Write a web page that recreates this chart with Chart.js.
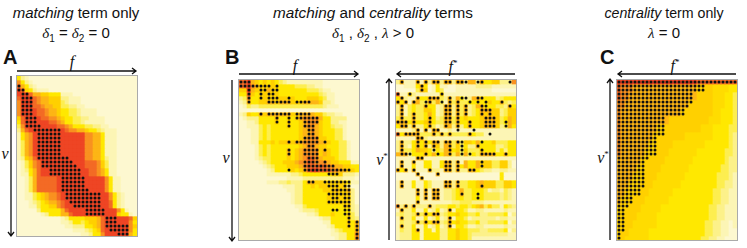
<!DOCTYPE html>
<html>
<head>
<meta charset="utf-8">
<title>matching and centrality terms</title>
<script src="https://cdn.jsdelivr.net/npm/chart.js@4"></script>
<style>
    html, body { margin: 0; padding: 0; background: #fff; }
    #page { position: relative; width: 747px; height: 248px; overflow: hidden; font-family: "Liberation Sans", Arial, sans-serif; color: #111; }
    canvas { position: absolute; filter: blur(0.35px); }
    .frame { position: absolute; width: 120px; height: 160px; border: 1px solid #aaa; margin: -1px 0 0 -1px; }
    .head { position: absolute; transform: translateX(-50%); white-space: nowrap; font-size: 15px; line-height: 18px; }
    .head i.s, .sym { font-family: "Liberation Serif", serif; font-style: italic; }
    .head sub { font-size: 10px; line-height: 0; font-style: normal; font-family: "Liberation Sans", sans-serif; }
    .letter { position: absolute; font-size: 20px; font-weight: bold; line-height: 20px; }
    .sym { position: absolute; font-size: 16px; line-height: 16px; transform: translateX(-50%); }
    .sym sup { font-size: 9px; line-height: 0; font-style: normal; }
    svg { position: absolute; left: 0; top: 0; }
</style>
</head>
<body>
<div id="page">
    <div class="head" style="left:76px;top:4px"><i>matching</i> term only</div>
    <div class="head" style="left:76px;top:24px"><i class="s">&delta;</i><sub>1</sub> = <i class="s">&delta;</i><sub>2</sub> = 0</div>
    <div class="head" style="left:373px;top:4px;font-size:15.3px"><i>matching</i> and <i>centrality</i> terms</div>
    <div class="head" style="left:373px;top:24px"><i class="s">&delta;</i><sub>1</sub> , <i class="s">&delta;</i><sub>2</sub> , <i class="s">&lambda;</i> &gt; 0</div>
    <div class="head" style="left:664px;top:4px;font-size:14.2px"><i>centrality</i> term only</div>
    <div class="head" style="left:664px;top:24px"><i class="s">&lambda;</i> = 0</div>

    <div class="letter" style="left:3px;top:47px">A</div>
    <div class="letter" style="left:225px;top:47px">B</div>
    <div class="letter" style="left:600px;top:47px">C</div>

    <div class="sym" style="left:72px;top:54px">f</div>
    <div class="sym" style="left:295px;top:58px">f</div>
    <div class="sym" style="left:453px;top:59px">f<sup>*</sup></div>
    <div class="sym" style="left:675px;top:58px">f<sup>*</sup></div>
    <div class="sym" style="left:5px;top:146px">v</div>
    <div class="sym" style="left:226px;top:150px">v</div>
    <div class="sym" style="left:382px;top:152px">v<sup>*</sup></div>
    <div class="sym" style="left:603px;top:150px">v<sup>*</sup></div>

    <canvas id="panelA" width="120" height="160" style="left:17px;top:76px"></canvas>
    <canvas id="panelB" width="120" height="160" style="left:239px;top:80px"></canvas>
    <canvas id="panelB2" width="120" height="160" style="left:396px;top:80px"></canvas>
    <canvas id="panelC" width="120" height="160" style="left:617px;top:80px"></canvas>
    <div class="frame" style="left:17px;top:76px"></div>
    <div class="frame" style="left:239px;top:80px"></div>
    <div class="frame" style="left:396px;top:80px"></div>
    <div class="frame" style="left:617px;top:80px"></div>

    <svg width="747" height="248" fill="none" stroke="#111" stroke-width="1.3">
        <path d="M17 71H135M132 68l4 3l-4 3"/>
        <path d="M11 76V235M8 232l3 4l3-4"/>
        <path d="M239 74H357M354 71l4 3l-4 3"/>
        <path d="M232 80V240M229 237l3 4l3-4"/>
        <path d="M515 74H398M401 71l-4 3l4 3"/>
        <path d="M389 240V80M386 83l3-4l3 4"/>
        <path d="M736 74H619M622 71l-4 3l4 3"/>
        <path d="M610 240V80M607 83l3-4l3 4"/>
    </svg>
</div>

<script>
// colour levels used in the heat strings, 0 = cream ... 9 = red, a = between 4 and 5
var levelColors = ['#fdf8d0', '#fcf5b5', '#fcf18a', '#fdee50', '#ffe800', '#ffd000', '#fdb515', '#f99120', '#f36a25', '#ee4524', '#ffdc00'];

// 30 columns x 40 rows, one character per cell
var heatA = [
    '42100', '74210', '86421', '985421110',
    '999866554441110', '899987665552211100', '799987665553211100', '799988766553322110',
    '79999887665443321111', '79999887665443321111', '5899998877654433221111', '48999999887644332111110',
    '37999999998876444332211', '2689999999998776654432111',
    '1467999999999999977664111', '1467999999999999977664111', '1367999999999999977664111',
    '1367999999999999977664111', '1367999999999999977664111', '1367999999999999977664111',
    '1256899999999999977664211', '0135789999999999988875311', '0135789999999999988875311',
    '0124689999999999998876411', '0114689999999999998876411',
    '00136888889999999999997411', '00136888889999999999997411', '00136888889999999999997411', '00136888889999999999997411',
    '00113456778999999999999742100', '00113456778999999999999742100', '0001234566789999999999984210', '0001134455789999999999984210',
    '00000244444689999999999997410', '000000124446689999999999954410',
    '000000000001244445556899999985', '000000000001124434556899999974', '000000000000112224456899999975',
    '000000000000001112345899999974', '000000000000000011244799999964'
];
var heatB = [
    '889654545432111111111', '889765555544443332211', '559655565544444443332110', '448545555544444444443211',
    '237445555555554445554311', '126445566566655566665221', '0132233333333333333332111', '0000000000000000000000',
    '125446566666655666655322110', '012224444644545677776442222', '001124444544544567775442211', '001113434444544567765443221',
    '000113434444444566765444331', '000113434444444566765444331', '000113434444444567775544331', '0001144454556566777766544331',
    '0000134344444445677655444331', '0000134344446456777756544331', '0000134344446456777756544331', '0000123344445456788765554331',
    '000001234445556778877765544411', '000000123444555678888877665544', '000000012444454568998887766554', '000000011111122344444445552221',
    '000000000000111122222222221110', '000000011122322246655555555411', '000000000001112244545555555200', '000000000000112244444555655620',
    '000000000000012244444455555520', '000000000000012244444455555520', '000000000000012244444455555520', '000000000000001134444444445521',
    '000000000000000122234444444421', '000000000000000001124445444531', '000000000000000000001224444532', '000000000000000000000114444546',
    '000000000000000000000012444546', '000000000000000000000001234446', '000000000000000000000001122447', '000000000000000000000000122447'
];
var heatB2 = [
    '261116162662662662662644552227', '001114640141100111112222111111', '000003650143000111111111000000', '811521111115111111111111111111',
    '462116446663262642266544423444', '646166336363163633444445446323', '261343364412662636236644433264', '261343355412662636234666552355',
    '261363346412662636234656552355', '363363346423663645444566653465', '666464456433663644644566653465', '466262246312662624644566652364',
    '111126161661121111111111111111', '846666333636363333643311111111', '111116621111111111111111111111', '262246464662663635546444533344',
    '262146462652663534226444422344', '263346554243664535333544424244', '666244464644663636343666644644', '111116611111111111111111111111',
    '161161144114662616446555335520', '161141144114662646446555335520', '646161116221662622664322112211', '000006000060000000000000004000',
    '000000600000000000000000004000', '161141143111662633445655533554', '161141143111662633445655533554', '111116161661223463344431221321',
    '111116161661223463344433332321', '111114161661223443344433332321', '111116111111112233322211111111', '726262226233344344345635331432',
    '162241141241261443112211111211', '232236364662344544334223333402', '162241141241261443122222212211', '132236364662364544334223333402',
    '162241141241261443112211111211', '132246144142244544333223333402', '122244144442244544322222222211', '122244144442244544311111111111'
];
var heatC = [
    '999999999999999999998888888888',
    '877766666666666666665555aaaa44', '877766666666666666665555aaaa44',
    '877666666666666666665555aaa443', '877666666666666666665555aaa443',
    '776666666666666666555555aaa443', '776666666666666666555555aaa443',
    '766666666666666655555555aa4443', '766666666666666655555555aa4443',
    '76666666666665555555555aaa4443', '76666666666665555555555aaa4443',
    '766666666655555555555aaa444433', '766666666655555555555aaa444433',
    '76666666655555555aaaaaaa444432', '76666666655555555aaaaaaa444432',
    '76666666555555aaaaaaaa44444432', '76666666555555aaaaaaaa44444432',
    '7666666555555aaaaaaa4444444332', '7666666555555aaaaaaa4444444332',
    '666666555555aaaaaaa44444444322', '666666555555aaaaaaa44444444322',
    '66666555555aaaaaaa444444443322', '66666555555aaaaaaa444444443322',
    '6666555555aaaaaaa4444444433321', '6666555555aaaaaaa4444444433321',
    '666555555aaaaaaa44444444433221', '666555555aaaaaaa44444444433221',
    '66555555aaaaaa4444444444332211', '66555555aaaaaa4444444444332211',
    '6555555aaaaaa44444444444332211', '6555555aaaaaa44444444444332211',
    '555555aaaaa4444444444443322111', '555555aaaaa4444444444443322111',
    '55555aaaaa44444444444443322111', '55555aaaaa44444444444443322111',
    '5555aaaaaa44444444444433221101', '5555aaaaaa44444444444433221101',
    '555aaaaa4444444444444433221100', '555aaaaa4444444444444433221100',
    '55aaaaaa4444444444444332211000'
];

// filled dots per row, as column lists
var dotsA = [
    '', '', '0', '0,1', '1,2', '1-3', '1-3', '1-3', '1-3', '1-3', '2-4', '2-4', '2-5', '4-10',
    '5-10', '5-10', '5-10', '5-10', '5-10', '5-10', '5-12', '6-13', '6-14', '8-15', '8-15',
    '11-16', '11-16', '11-16', '11-17', '12-20', '12-20', '13-20', '14-20', '17-21', '17-21',
    '22-24', '22-24', '22-27', '23-27', '25-27'
];
var dotsB = [
    '0-2', '0-7,9', '2,5,6,8,9', '2,5,7,8', '2,5,7-9,12', '2,7-12,14-17', '', '', '5,7-12,14-17', '9,12,14-19',
    '9,12,16-19', '12,16-18', '17,18', '17,18', '16-19', '12,14-19,21', '17,18', '12,16-19,21', '12,16-19', '17-19',
    '16-19,21', '16-23', '12,16-27', '22-24', '', '17,18,21-27', '22-24,26,27', '23-27', '22-27', '23,24,26,27',
    '22-27', '26,27', '23,24,26,27', '26,27', '27', '27,29', '27,29', '29', '29', '29'
];
var dotsB2 = [
    '1,5,7,9,10,12,13,15-17,20,21,28', '6', '6', '0,3,11', '1,5,8,9,10,13,16,17,20,21', '0,2,4,7,8,11,13,15,18,20,22,26',
    '1,7,12,13,15,17,21,22,28', '1,12,13,15,17,21-23', '1,4,12,13,15,17,21,23', '1,4,8,12,13,15,22-24',
    '0-2,4,8,12,13,15,18,22-24,27', '1,2,4,8,12,15,18,22-24,27', '5,7,9,10,15,19', '0,2-5,9,11,13,18,23',
    '5,6', '1,5,7,9,10,12,13,15,16,21', '1,5,7,9,13,16,20', '1,9,13,16,21', '1-3,7,10,13,16,18,21-24,27', '5,6',
    '1,4,12,13,15,21', '1,12,13,15,21', '0,2,4,8,12,13,15,18,19', '5,10', '6', '1,12,13,15', '1,12,13,15,21',
    '5,7,9,10', '5,7,9,10,16,20', '7,9,10,20', '5', '0,2,4,8', '1,13', '5,7,9,10', '1,13', '5,7,9,10,13', '1,13', '5', '', ''
];
var dotCountC = [30, 22, 22, 19, 19, 19, 18, 17, 17, 12, 12, 12, 12, 12, 10, 10, 10, 10, 10, 8, 7, 7, 7, 7, 7, 7, 7, 6, 6, 4, 4, 3, 2, 2, 2, 2, 2, 2, 1, 1];

var dotsC = dotCountC.map(function (n) {
    return '0-' + (n - 1);
});

function parseCols(text) {
    var cols = [];
    if (!text) {
        return cols;
    }
    text.split(',').forEach(function (part) {
        var ends = part.split('-').map(Number);
        var last = ends.length > 1 ? ends[1] : ends[0];
        for (var c = ends[0]; c <= last; c++) {
            cols.push(c);
        }
    });
    return cols;
}

// one stacked bar dataset per row, so each cell is a bar of height 1
function drawPanel(id, heat, dots) {
    var labels = [];
    for (var c = 0; c < 30; c++) {
        labels.push(c);
    }

    var datasets = heat.map(function (row) {
        return {
            type: 'bar',
            stack: 'heat',
            data: labels.map(function () { return 1; }),
            backgroundColor: labels.map(function (c) {
                return levelColors[parseInt(row[c] || '0', 16)];
            }),
            borderWidth: 0,
            barPercentage: 1,
            categoryPercentage: 1,
            order: 2
        };
    });

    var points = [];
    dots.forEach(function (text, r) {
        parseCols(text).forEach(function (c) {
            points.push({ x: c, y: r + 0.5 });
        });
    });
    datasets.push({
        type: 'scatter',
        data: points,
        backgroundColor: '#111',
        pointRadius: 1.5,
        pointBorderWidth: 0,
        order: 1
    });

    new Chart(document.getElementById(id), {
        type: 'bar',
        data: { labels: labels, datasets: datasets },
        options: {
            responsive: false,
            animation: false,
            layout: { padding: 0, autoPadding: false },
            plugins: { legend: { display: false }, tooltip: { enabled: false } },
            scales: {
                x: { display: false, offset: true },
                y: { display: false, reverse: true, min: 0, max: 40 }
            }
        }
    });
}

drawPanel('panelA', heatA, dotsA);
drawPanel('panelB', heatB, dotsB);
drawPanel('panelB2', heatB2, dotsB2);
drawPanel('panelC', heatC, dotsC);
</script>
</body>
</html>
